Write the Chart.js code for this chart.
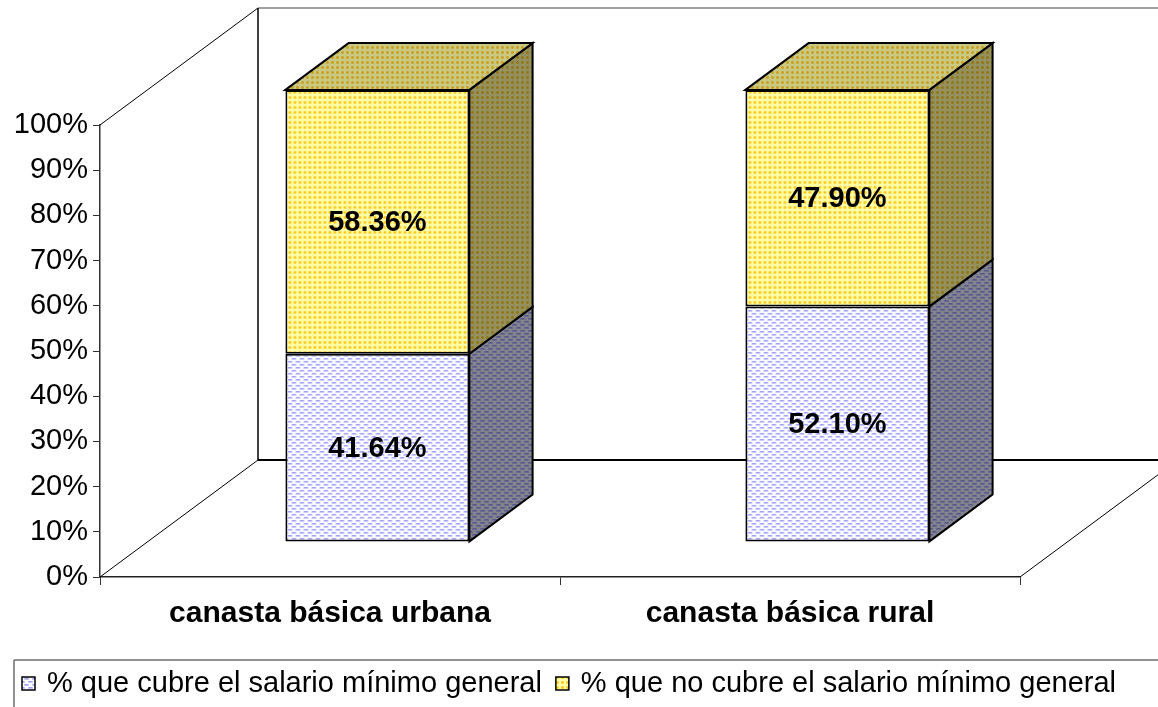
<!DOCTYPE html>
<html>
<head>
<meta charset="utf-8">
<script src="https://cdn.jsdelivr.net/npm/chart.js@4.4.1/dist/chart.umd.min.js"></script>
<style>
	html, body { margin: 0; padding: 0; background: #fff; }
	#wrap { width: 1158px; height: 707px; }
</style>
</head>
<body>
<div id="wrap"><canvas id="chart" width="1158" height="707"></canvas></div>
<script>
	// chart data
	var categories = ['canasta básica urbana', 'canasta básica rural'];
	var seriesLabels = ['% que cubre el salario mínimo general', '% que no cubre el salario mínimo general'];
	var coveredValues = [41.64, 52.10];
	var notCoveredValues = [58.36, 47.90];
	var yMax = 100;
	var yStep = 10;

	var fontFamily = "'Liberation Sans', Arial, sans-serif";
	var depth = { x: 158, y: -117 };   // full 3D depth of the plot
	var barFront = 0.3, barDepth = 0.4; // bar position inside that depth

	/**
	 * Small tiled fill patterns, like the old office ones
	 */
	function makePattern(kind) {
		var c = document.createElement('canvas');
		var g = c.getContext('2d');
		if (kind == 'blue') {
			c.width = 8; c.height = 6;
			g.fillStyle = '#ffffff';
			g.fillRect(0, 0, 8, 6);
			g.fillStyle = '#c8c8ff';
			g.fillRect(0, 0, 5, 2);
			g.fillRect(4, 3, 5, 2);
			g.fillRect(-4, 3, 5, 2);
			g.fillStyle = '#9c9cff';
			g.fillRect(1, 0, 3, 1);
			g.fillRect(5, 3, 3, 1);
		} else {
			c.width = 5; c.height = 5;
			g.fillStyle = '#ffffa6';
			g.fillRect(0, 0, 5, 5);
			g.fillStyle = '#ffe070';
			g.fillRect(1, 1, 3, 3);
			g.fillStyle = '#ffcc22';
			g.fillRect(2, 1, 1, 3);
			g.fillRect(1, 2, 3, 1);
		}
		return g.createPattern(c, 'repeat');
	}

	var ctx = document.getElementById('chart').getContext('2d');
	var fills = [makePattern('blue'), makePattern('yellow')];
	var sideShades = ['rgba(30,30,50,0.55)', 'rgba(40,35,20,0.5)'];

	function face(c, pts, fill, shade) {
		c.beginPath();
		c.moveTo(pts[0][0], pts[0][1]);
		for (var i = 1; i < pts.length; i++) c.lineTo(pts[i][0], pts[i][1]);
		c.closePath();
		c.fillStyle = fill;
		c.fill();
		c.fillStyle = shade;
		c.fill();
		c.strokeStyle = '#000';
		c.lineWidth = 2;
		c.lineJoin = 'miter';
		c.stroke();
	}

	function line(c, x1, y1, x2, y2, color, w) {
		c.beginPath();
		c.moveTo(x1, y1);
		c.lineTo(x2, y2);
		c.strokeStyle = color;
		c.lineWidth = w;
		c.stroke();
	}

	// draws walls, floor and the 3D sides of the bars
	var bar3d = {
		id: 'bar3d',
		beforeDatasetsDraw: function (chart) {
			var c = chart.ctx, ca = chart.chartArea;
			var W = chart.width;
			c.save();
			// back wall and floor
			line(c, ca.left + depth.x, ca.top + depth.y, W, ca.top + depth.y, '#808080', 1.5);
			line(c, ca.left + depth.x, ca.top + depth.y, ca.left + depth.x, ca.bottom + depth.y, '#000', 1.5);
			line(c, ca.left + depth.x, ca.bottom + depth.y, W, ca.bottom + depth.y, '#000', 2);
			line(c, ca.left, ca.top, ca.left + depth.x, ca.top + depth.y, '#000', 1);
			line(c, ca.left, ca.bottom, ca.left + depth.x, ca.bottom + depth.y, '#000', 1);
			line(c, ca.right, ca.bottom, ca.right + depth.x, ca.bottom + depth.y, '#000', 1);

			var ox = depth.x * barFront, oy = depth.y * barFront;
			var bx = depth.x * barDepth, by = depth.y * barDepth;
			var n = chart.data.datasets.length;
			for (var d = 0; d < n; d++) {
				var meta = chart.getDatasetMeta(d);
				meta.data.forEach(function (bar) {
					var p = bar.getProps(['x', 'y', 'base', 'width'], true);
					var L = p.x - p.width / 2 + ox, R = p.x + p.width / 2 + ox;
					var T = p.y + oy, B = p.base + oy;
					// right side
					face(c, [[R, T], [R + bx, T + by], [R + bx, B + by], [R, B]], fills[d], sideShades[d]);
					// top face only on the top segment
					if (d == n - 1) {
						face(c, [[L, T], [L + bx, T + by], [R + bx, T + by], [R, T]], fills[d], 'rgba(60,60,40,0.28)');
					}
				});
			}
			c.restore();
			// front faces are drawn by Chart.js, shifted into the depth
			c.save();
			c.translate(ox, oy);
		},
		afterDatasetsDraw: function (chart) {
			var c = chart.ctx;
			c.restore();
			var ox = depth.x * barFront, oy = depth.y * barFront;
			c.save();
			c.font = 'bold 29px ' + fontFamily;
			c.fillStyle = '#000';
			c.textAlign = 'center';
			c.textBaseline = 'middle';
			chart.data.datasets.forEach(function (ds, d) {
				chart.getDatasetMeta(d).data.forEach(function (bar, i) {
					var p = bar.getProps(['x', 'y', 'base'], true);
					c.fillText(ds.data[i].toFixed(2) + '%', p.x + ox, (p.y + p.base) / 2 + oy + 1);
				});
			});
			c.restore();
		},
		afterDraw: function (chart) {
			// legend box at the bottom
			var c = chart.ctx;
			var top = 660, left = 14;
			c.save();
			line(c, left, top, chart.width, top, '#6e6e6e', 1.5);
			line(c, left, top, left, chart.height, '#6e6e6e', 1.5);
			c.font = '29px ' + fontFamily;
			c.textBaseline = 'middle';
			c.fillStyle = '#000';
			var x = 22, y = 684;
			chart.data.datasets.forEach(function (ds, d) {
				c.fillStyle = fills[d];
				c.fillRect(x, y - 7, 13, 13);
				c.strokeStyle = '#000';
				c.lineWidth = 1.5;
				c.strokeRect(x, y - 7, 13, 13);
				c.fillStyle = '#000';
				c.fillText(ds.label, x + 25, y);
				x += 25 + c.measureText(ds.label).width + 14;
			});
			c.restore();
		}
	};

	var chart = new Chart(ctx, {
		type: 'bar',
		data: {
			labels: categories,
			datasets: [{
				label: seriesLabels[0],
				data: coveredValues,
				backgroundColor: fills[0],
				borderColor: '#000',
				borderWidth: 2,
				borderSkipped: false,
				categoryPercentage: 1,
				barPercentage: 0.4,
			}, {
				label: seriesLabels[1],
				data: notCoveredValues,
				backgroundColor: fills[1],
				borderColor: '#000',
				borderWidth: 2,
				borderSkipped: false,
				categoryPercentage: 1,
				barPercentage: 0.4,
			}]
		},
		options: {
			responsive: false,
			animation: false,
			devicePixelRatio: 1,
			layout: { padding: { top: 125, right: 138, left: 0, bottom: 0 } },
			plugins: {
				legend: { display: false },
				tooltip: { enabled: false }
			},
			scales: {
				x: {
					stacked: true,
					afterFit: function (scale) { scale.height = 130; },
					grid: { drawOnChartArea: false, drawTicks: true, tickLength: 8, color: '#333', offset: true },
					border: { display: true, color: '#222', width: 1.5 },
					ticks: {
						color: '#000',
						padding: 11,
						font: { family: fontFamily, size: 30, weight: 'bold' }
					}
				},
				y: {
					stacked: true,
					min: 0,
					max: yMax,
					afterFit: function (scale) { scale.width = 100; },
					grid: { drawOnChartArea: false, drawTicks: true, tickLength: 7, color: '#333' },
					border: { display: true, color: '#333', width: 1.5 },
					ticks: {
						stepSize: yStep,
						color: '#000',
						padding: 5,
						font: { family: fontFamily, size: 29 },
						callback: function (v) { return v + '%'; }
					}
				}
			}
		},
		plugins: [bar3d]
	});
</script>
</body>
</html>
